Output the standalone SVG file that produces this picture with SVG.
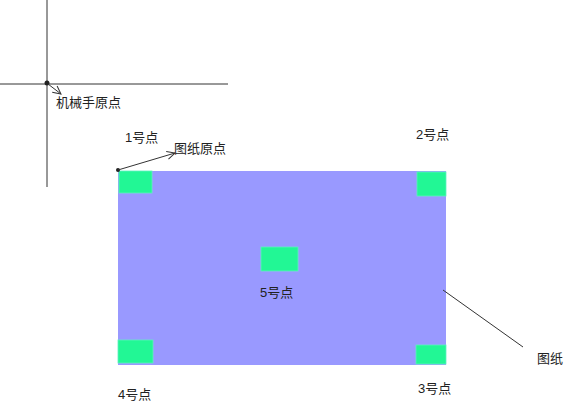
<svg xmlns="http://www.w3.org/2000/svg" width="584" height="406" viewBox="0 0 584 406">
<style>
text{font-family:"Liberation Sans","Noto Sans CJK SC",sans-serif;font-size:13px;fill:#222}
.ln{stroke:#333;stroke-width:1;fill:none}
.pad{fill:#22f795;stroke:#5ff0c0;stroke-width:0.8}
</style>
<defs>
<marker id="oa" markerWidth="10" markerHeight="10" refX="9" refY="5" orient="auto" markerUnits="userSpaceOnUse">
<path d="M1,1 L9,5 L1,9" fill="none" stroke="#333" stroke-width="1"/>
</marker>
</defs>
<rect width="584" height="406" fill="#fff"/>
<g id="axes">
<line class="ln" x1="47" y1="0" x2="47" y2="187"/>
<line class="ln" x1="0" y1="84" x2="228" y2="84"/>
<circle cx="47" cy="83" r="2.5" fill="#222"/>
</g>
<g id="paper">
<rect x="118" y="171" width="328" height="194" fill="#9999ff"/>
</g>
<g id="p1"><rect class="pad" x="119" y="171" width="33" height="22"/><text x="125" y="142">1号点</text></g>
<g id="p2"><rect class="pad" x="417" y="172" width="29" height="24"/><text x="416" y="139">2号点</text></g>
<g id="p5"><rect class="pad" x="261" y="247" width="37" height="24"/><text x="260" y="297">5号点</text></g>
<g id="p4"><rect class="pad" x="118" y="340" width="35" height="23"/><text x="118" y="399">4号点</text></g>
<g id="p3"><rect class="pad" x="416" y="345" width="30" height="19"/><text x="418" y="393">3号点</text></g>
<g id="robotOrigin"><text x="56" y="107">机械手原点</text></g>
<g id="paperOrigin"><circle cx="118" cy="170" r="2" fill="#222"/><text x="174" y="153">图纸原点</text></g>
<g id="paperLabel"><text x="537" y="363">图纸</text></g>
<g id="connectors">
<line class="ln" x1="48" y1="84" x2="61" y2="94" marker-end="url(#oa)"/>
<line class="ln" x1="118" y1="170" x2="175" y2="153" marker-end="url(#oa)"/>
<line class="ln" x1="443" y1="290" x2="523" y2="347"/>
</g>
</svg>
